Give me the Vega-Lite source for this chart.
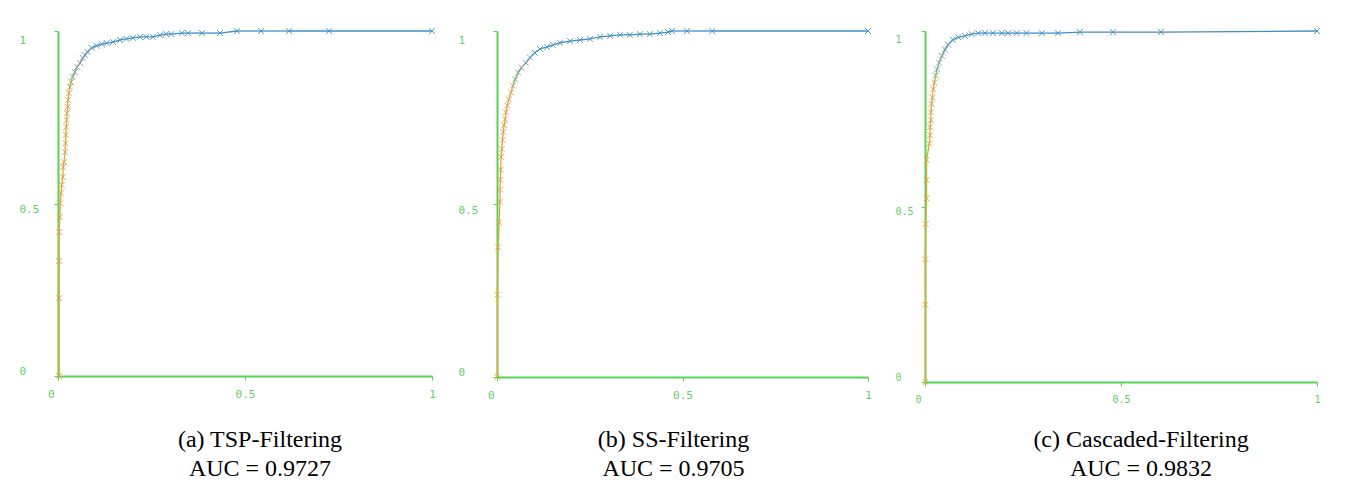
{
  "$schema": "https://vega.github.io/schema/vega-lite/v6.json",
  "background": "white",
  "padding": {"left": 19, "top": 26, "right": 5, "bottom": 5},
  "spacing": 57,
  "bounds": "flush",
  "config": {
    "view": {"stroke": null},
    "axis": {
      "grid": false,
      "title": null,
      "labelFlush": false,
      "domainColor": "#55d455",
      "domainWidth": 2,
      "tickColor": "#55d455",
      "tickSize": 4,
      "labelColor": "#5fcf5f",
      "labelFont": "DejaVu Sans Mono",
      "labelFontSize": 11
    },
    "title": {
      "font": "Liberation Serif",
      "fontSize": 24,
      "fontWeight": "normal",
      "color": "#000000",
      "lineHeight": 29,
      "anchor": "middle",
      "orient": "bottom"
    }
  },
  "datasets": {
    "p1": [
      {"fpr": 0.003, "tpr": 0, "t": 1},
      {"fpr": 0.003, "tpr": 0.226, "t": 0.98},
      {"fpr": 0.003, "tpr": 0.333, "t": 0.96},
      {"fpr": 0.003, "tpr": 0.417, "t": 0.94},
      {"fpr": 0.005, "tpr": 0.461, "t": 0.92},
      {"fpr": 0.006, "tpr": 0.501, "t": 0.9},
      {"fpr": 0.008, "tpr": 0.53, "t": 0.88},
      {"fpr": 0.01, "tpr": 0.554, "t": 0.86},
      {"fpr": 0.013, "tpr": 0.577, "t": 0.84},
      {"fpr": 0.014, "tpr": 0.606, "t": 0.82},
      {"fpr": 0.016, "tpr": 0.62, "t": 0.8},
      {"fpr": 0.019, "tpr": 0.649, "t": 0.78},
      {"fpr": 0.02, "tpr": 0.675, "t": 0.76},
      {"fpr": 0.021, "tpr": 0.699, "t": 0.74},
      {"fpr": 0.022, "tpr": 0.722, "t": 0.72},
      {"fpr": 0.023, "tpr": 0.742, "t": 0.7},
      {"fpr": 0.024, "tpr": 0.762, "t": 0.68},
      {"fpr": 0.026, "tpr": 0.78, "t": 0.66},
      {"fpr": 0.027, "tpr": 0.8, "t": 0.64},
      {"fpr": 0.029, "tpr": 0.82, "t": 0.62},
      {"fpr": 0.032, "tpr": 0.838, "t": 0.6},
      {"fpr": 0.035, "tpr": 0.852, "t": 0.58},
      {"fpr": 0.039, "tpr": 0.867, "t": 0.55},
      {"fpr": 0.045, "tpr": 0.881, "t": 0.52},
      {"fpr": 0.051, "tpr": 0.896, "t": 0.49},
      {"fpr": 0.059, "tpr": 0.907, "t": 0.46},
      {"fpr": 0.066, "tpr": 0.922, "t": 0.42},
      {"fpr": 0.072, "tpr": 0.93, "t": 0.38},
      {"fpr": 0.079, "tpr": 0.939, "t": 0.34},
      {"fpr": 0.09, "tpr": 0.951, "t": 0.3},
      {"fpr": 0.103, "tpr": 0.957, "t": 0.27},
      {"fpr": 0.117, "tpr": 0.962, "t": 0.24},
      {"fpr": 0.13, "tpr": 0.965, "t": 0.22},
      {"fpr": 0.147, "tpr": 0.968, "t": 0.2},
      {"fpr": 0.166, "tpr": 0.974, "t": 0.18},
      {"fpr": 0.183, "tpr": 0.977, "t": 0.16},
      {"fpr": 0.2, "tpr": 0.98, "t": 0.15},
      {"fpr": 0.219, "tpr": 0.983, "t": 0.14},
      {"fpr": 0.236, "tpr": 0.983, "t": 0.13},
      {"fpr": 0.254, "tpr": 0.983, "t": 0.12},
      {"fpr": 0.273, "tpr": 0.988, "t": 0.11},
      {"fpr": 0.289, "tpr": 0.991, "t": 0.1},
      {"fpr": 0.303, "tpr": 0.991, "t": 0.09},
      {"fpr": 0.331, "tpr": 0.994, "t": 0.08},
      {"fpr": 0.348, "tpr": 0.994, "t": 0.07},
      {"fpr": 0.385, "tpr": 0.994, "t": 0.06},
      {"fpr": 0.433, "tpr": 0.994, "t": 0.05},
      {"fpr": 0.479, "tpr": 1, "t": 0.04},
      {"fpr": 0.543, "tpr": 1, "t": 0.03},
      {"fpr": 0.618, "tpr": 1, "t": 0.02},
      {"fpr": 0.725, "tpr": 1, "t": 0.01},
      {"fpr": 1, "tpr": 1, "t": 0}
    ],
    "p2": [
      {"fpr": 0.001, "tpr": 0, "t": 1},
      {"fpr": 0.001, "tpr": 0.238, "t": 0.97},
      {"fpr": 0.003, "tpr": 0.375, "t": 0.94},
      {"fpr": 0.006, "tpr": 0.447, "t": 0.91},
      {"fpr": 0.008, "tpr": 0.507, "t": 0.88},
      {"fpr": 0.008, "tpr": 0.542, "t": 0.86},
      {"fpr": 0.009, "tpr": 0.57, "t": 0.84},
      {"fpr": 0.01, "tpr": 0.599, "t": 0.82},
      {"fpr": 0.011, "tpr": 0.636, "t": 0.8},
      {"fpr": 0.013, "tpr": 0.659, "t": 0.78},
      {"fpr": 0.015, "tpr": 0.685, "t": 0.76},
      {"fpr": 0.017, "tpr": 0.708, "t": 0.74},
      {"fpr": 0.019, "tpr": 0.728, "t": 0.72},
      {"fpr": 0.022, "tpr": 0.745, "t": 0.7},
      {"fpr": 0.024, "tpr": 0.765, "t": 0.68},
      {"fpr": 0.028, "tpr": 0.785, "t": 0.66},
      {"fpr": 0.032, "tpr": 0.802, "t": 0.64},
      {"fpr": 0.038, "tpr": 0.822, "t": 0.61},
      {"fpr": 0.043, "tpr": 0.842, "t": 0.58},
      {"fpr": 0.049, "tpr": 0.86, "t": 0.55},
      {"fpr": 0.057, "tpr": 0.88, "t": 0.51},
      {"fpr": 0.066, "tpr": 0.894, "t": 0.47},
      {"fpr": 0.078, "tpr": 0.908, "t": 0.43},
      {"fpr": 0.089, "tpr": 0.923, "t": 0.39},
      {"fpr": 0.102, "tpr": 0.937, "t": 0.34},
      {"fpr": 0.116, "tpr": 0.948, "t": 0.3},
      {"fpr": 0.135, "tpr": 0.954, "t": 0.27},
      {"fpr": 0.151, "tpr": 0.96, "t": 0.24},
      {"fpr": 0.17, "tpr": 0.966, "t": 0.22},
      {"fpr": 0.197, "tpr": 0.971, "t": 0.2},
      {"fpr": 0.224, "tpr": 0.974, "t": 0.18},
      {"fpr": 0.251, "tpr": 0.977, "t": 0.16},
      {"fpr": 0.278, "tpr": 0.983, "t": 0.14},
      {"fpr": 0.305, "tpr": 0.986, "t": 0.12},
      {"fpr": 0.332, "tpr": 0.989, "t": 0.11},
      {"fpr": 0.358, "tpr": 0.989, "t": 0.1},
      {"fpr": 0.385, "tpr": 0.991, "t": 0.09},
      {"fpr": 0.412, "tpr": 0.991, "t": 0.08},
      {"fpr": 0.439, "tpr": 0.994, "t": 0.07},
      {"fpr": 0.461, "tpr": 0.997, "t": 0.06},
      {"fpr": 0.472, "tpr": 1, "t": 0.05},
      {"fpr": 0.512, "tpr": 1, "t": 0.03},
      {"fpr": 0.58, "tpr": 1, "t": 0.02},
      {"fpr": 1, "tpr": 1, "t": 0}
    ],
    "p3": [
      {"fpr": 0.001, "tpr": 0, "t": 1},
      {"fpr": 0.001, "tpr": 0.22, "t": 0.97},
      {"fpr": 0.001, "tpr": 0.35, "t": 0.94},
      {"fpr": 0.002, "tpr": 0.45, "t": 0.91},
      {"fpr": 0.004, "tpr": 0.523, "t": 0.88},
      {"fpr": 0.004, "tpr": 0.576, "t": 0.85},
      {"fpr": 0.004, "tpr": 0.633, "t": 0.82},
      {"fpr": 0.011, "tpr": 0.679, "t": 0.79},
      {"fpr": 0.013, "tpr": 0.703, "t": 0.76},
      {"fpr": 0.013, "tpr": 0.726, "t": 0.74},
      {"fpr": 0.015, "tpr": 0.746, "t": 0.72},
      {"fpr": 0.015, "tpr": 0.768, "t": 0.7},
      {"fpr": 0.017, "tpr": 0.792, "t": 0.68},
      {"fpr": 0.019, "tpr": 0.811, "t": 0.66},
      {"fpr": 0.021, "tpr": 0.834, "t": 0.63},
      {"fpr": 0.024, "tpr": 0.853, "t": 0.6},
      {"fpr": 0.027, "tpr": 0.873, "t": 0.56},
      {"fpr": 0.031, "tpr": 0.891, "t": 0.52},
      {"fpr": 0.036, "tpr": 0.91, "t": 0.48},
      {"fpr": 0.043, "tpr": 0.929, "t": 0.44},
      {"fpr": 0.051, "tpr": 0.947, "t": 0.4},
      {"fpr": 0.059, "tpr": 0.961, "t": 0.35},
      {"fpr": 0.071, "tpr": 0.975, "t": 0.3},
      {"fpr": 0.085, "tpr": 0.982, "t": 0.26},
      {"fpr": 0.102, "tpr": 0.986, "t": 0.22},
      {"fpr": 0.119, "tpr": 0.991, "t": 0.19},
      {"fpr": 0.136, "tpr": 0.994, "t": 0.17},
      {"fpr": 0.153, "tpr": 0.994, "t": 0.15},
      {"fpr": 0.173, "tpr": 0.994, "t": 0.13},
      {"fpr": 0.196, "tpr": 0.994, "t": 0.12},
      {"fpr": 0.212, "tpr": 0.994, "t": 0.11},
      {"fpr": 0.234, "tpr": 0.994, "t": 0.1},
      {"fpr": 0.259, "tpr": 0.994, "t": 0.09},
      {"fpr": 0.298, "tpr": 0.994, "t": 0.08},
      {"fpr": 0.339, "tpr": 0.994, "t": 0.07},
      {"fpr": 0.395, "tpr": 0.997, "t": 0.05},
      {"fpr": 0.48, "tpr": 0.997, "t": 0.03},
      {"fpr": 0.602, "tpr": 0.997, "t": 0.02},
      {"fpr": 1, "tpr": 1, "t": 0}
    ]
  },
  "hconcat": [
    {
      "width": 374,
      "height": 345,
      "title": {"text": ["(a) TSP-Filtering", "AUC = 0.9727"], "dx": 15, "offset": 29},
      "data": {"name": "p1"},
      "layer": [
        {
          "transform": [
            {"window": [{"op": "lead", "field": "fpr", "as": "fpr2"}, {"op": "lead", "field": "tpr", "as": "tpr2"}], "sort": [{"field": "fpr"}, {"field": "tpr"}]},
            {"filter": "datum.fpr2 != null"}
          ],
          "mark": {"type": "rule", "strokeWidth": 1.3},
          "encoding": {
            "x": {"field": "fpr", "type": "quantitative", "scale": {"domain": [0, 1], "nice": false}, "axis": {"values": [0, 0.5, 1], "format": "~g", "labelPadding": 8, "labelAlign": {"condition": {"test": "datum.value == 0", "value": "right"}, "value": "center"}, "labelOffset": {"condition": {"test": "datum.value == 0", "value": -4}, "value": 0}}},
            "y": {"field": "tpr", "type": "quantitative", "scale": {"domain": [0, 1], "nice": false}, "axis": {"values": [0, 0.5, 1], "format": "~g", "labelAlign": "left", "labelPadding": 35, "labelBaseline": {"condition": {"test": "datum.value == 0", "value": "bottom"}, "value": "top"}, "labelOffset": {"condition": {"test": "datum.value == 1", "value": 3}, "value": 0}}},
            "x2": {"field": "fpr2"},
            "y2": {"field": "tpr2"},
            "color": {"field": "t", "type": "quantitative", "scale": {"domain": [0, 0.33, 0.48, 0.62, 1], "range": ["#3f8fc4", "#4c93c2", "#8f9b9c", "#dda347", "#e6a43a"]}, "legend": null}
          }
        },
        {
          "mark": {"type": "point", "shape": "M-1,-1L1,1M-1,1L1,-1", "filled": false, "size": 34, "strokeWidth": 1, "opacity": 0.9},
          "encoding": {
            "x": {"field": "fpr", "type": "quantitative"},
            "y": {"field": "tpr", "type": "quantitative"},
            "color": {"field": "t", "type": "quantitative", "legend": null}
          }
        }
      ]
    },
    {
      "width": 379,
      "height": 346,
      "title": {"text": ["(b) SS-Filtering", "AUC = 0.9705"], "dx": -5, "offset": 28},
      "data": {"name": "p2"},
      "layer": [
        {
          "transform": [
            {"window": [{"op": "lead", "field": "fpr", "as": "fpr2"}, {"op": "lead", "field": "tpr", "as": "tpr2"}], "sort": [{"field": "fpr"}, {"field": "tpr"}]},
            {"filter": "datum.fpr2 != null"}
          ],
          "mark": {"type": "rule", "strokeWidth": 1.3},
          "encoding": {
            "x": {"field": "fpr", "type": "quantitative", "scale": {"domain": [0, 1], "nice": false, "range": [8, 379]}, "axis": {"values": [0, 0.5, 1], "format": "~g", "labelPadding": 8, "labelAlign": {"condition": {"test": "datum.value == 0", "value": "right"}, "value": "center"}, "labelOffset": {"condition": {"test": "datum.value == 0", "value": -3}, "value": 0}}},
            "y": {"field": "tpr", "type": "quantitative", "scale": {"domain": [0, 1], "nice": false}, "axis": {"values": [0, 0.5, 1], "format": "~g", "offset": -8, "labelAlign": "left", "labelPadding": 35, "labelBaseline": {"condition": {"test": "datum.value == 0", "value": "bottom"}, "value": "top"}, "labelOffset": {"condition": {"test": "datum.value == 1", "value": 3}, "value": 0}}},
            "x2": {"field": "fpr2"},
            "y2": {"field": "tpr2"},
            "color": {"field": "t", "type": "quantitative", "scale": {"domain": [0, 0.33, 0.48, 0.62, 1], "range": ["#3f8fc4", "#4c93c2", "#8f9b9c", "#dda347", "#e6a43a"]}, "legend": null}
          }
        },
        {
          "mark": {"type": "point", "shape": "M-1,-1L1,1M-1,1L1,-1", "filled": false, "size": 34, "strokeWidth": 1, "opacity": 0.9},
          "encoding": {
            "x": {"field": "fpr", "type": "quantitative"},
            "y": {"field": "tpr", "type": "quantitative"},
            "color": {"field": "t", "type": "quantitative", "legend": null}
          }
        }
      ]
    },
    {
      "width": 392,
      "height": 351,
      "title": {"text": ["(c) Cascaded-Filtering", "AUC = 0.9832"], "dx": 20, "offset": 24},
      "data": {"name": "p3"},
      "layer": [
        {
          "transform": [
            {"window": [{"op": "lead", "field": "fpr", "as": "fpr2"}, {"op": "lead", "field": "tpr", "as": "tpr2"}], "sort": [{"field": "fpr"}, {"field": "tpr"}]},
            {"filter": "datum.fpr2 != null"}
          ],
          "mark": {"type": "rule", "strokeWidth": 1.3},
          "encoding": {
            "x": {"field": "fpr", "type": "quantitative", "scale": {"domain": [0, 1], "nice": false}, "axis": {"values": [0, 0.5, 1], "format": "~g", "labelPadding": 8, "labelFontSize": 10, "labelAlign": {"condition": {"test": "datum.value == 0", "value": "right"}, "value": "center"}, "labelOffset": {"condition": {"test": "datum.value == 0", "value": -4}, "value": 0}}},
            "y": {"field": "tpr", "type": "quantitative", "scale": {"domain": [0, 1], "nice": false}, "axis": {"values": [0, 0.5, 1], "format": "~g", "labelAlign": "left", "labelPadding": 26, "labelFontSize": 10, "labelBaseline": {"condition": {"test": "datum.value == 0", "value": "bottom"}, "value": "top"}, "labelOffset": {"condition": {"test": "datum.value == 1", "value": 3}, "value": 0}}},
            "x2": {"field": "fpr2"},
            "y2": {"field": "tpr2"},
            "color": {"field": "t", "type": "quantitative", "scale": {"domain": [0, 0.33, 0.48, 0.62, 1], "range": ["#3f8fc4", "#4c93c2", "#8f9b9c", "#dda347", "#e6a43a"]}, "legend": null}
          }
        },
        {
          "mark": {"type": "point", "shape": "M-1,-1L1,1M-1,1L1,-1", "filled": false, "size": 34, "strokeWidth": 1, "opacity": 0.9},
          "encoding": {
            "x": {"field": "fpr", "type": "quantitative"},
            "y": {"field": "tpr", "type": "quantitative"},
            "color": {"field": "t", "type": "quantitative", "legend": null}
          }
        }
      ]
    }
  ]
}
